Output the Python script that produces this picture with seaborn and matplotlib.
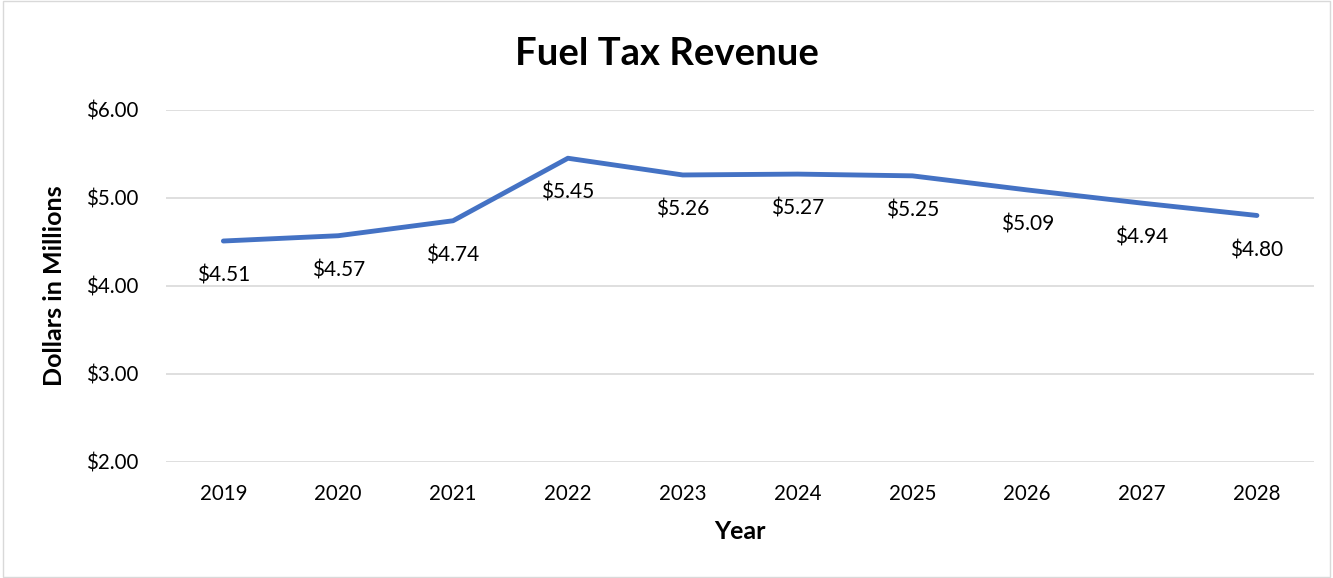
import matplotlib
matplotlib.use("Agg")
import matplotlib.pyplot as plt
import seaborn as sns
import pandas as pd

years = ["2019", "2020", "2021", "2022", "2023", "2024", "2025", "2026", "2027", "2028"]
revenue = [4.51, 4.57, 4.74, 5.45, 5.26, 5.27, 5.25, 5.09, 4.94, 4.80]
y_ticks = [2.0, 3.0, 4.0, 5.0, 6.0]

df = pd.DataFrame({"Year": years, "Revenue": revenue})

sns.set_style("white")
plt.rcParams['font.family'] = ['Lato', 'DejaVu Sans']
plt.rcParams['text.color'] = 'black'
plt.rcParams['axes.labelcolor'] = 'black'
plt.rcParams['xtick.color'] = 'black'
plt.rcParams['ytick.color'] = 'black'

fig = plt.figure(figsize=(13.33, 5.78), dpi=100)
ax = fig.add_axes([0.1245, 0.2007, 0.8615, 0.6093])

sns.lineplot(data=df, x="Year", y="Revenue", ax=ax, color="#4472C4",
             linewidth=3.5, sort=False)

# data labels under each point
for i, v in enumerate(revenue):
    ax.annotate(f"${v:.2f}", (i, v), xytext=(0, -25), textcoords="offset points",
                ha="center", va="center", fontsize=15, color="black")

ax.set_xlim(-0.5, len(years) - 0.5)
ax.set_ylim(2.0, 6.0)
ax.set_yticks(y_ticks)
ax.set_yticklabels([f"${t:.2f}" for t in y_ticks], fontsize=14.8)
ax.tick_params(axis="x", labelsize=14.8, length=0, pad=16)
ax.tick_params(axis="y", length=0, pad=20)
ax.grid(axis="y", color="#D9D9D9", linewidth=1.2)
ax.set_axisbelow(True)
for s in ax.spines.values():
    s.set_visible(False)

ax.set_xlabel("Year", fontsize=18, fontweight="bold", va="center")
ax.xaxis.set_label_coords(0.5, -0.196)
ax.set_ylabel("Dollars in Millions", fontsize=18, fontweight="bold", va="center")
ax.yaxis.set_label_coords(-0.097, 0.5)
fig.suptitle("Fuel Tax Revenue", fontsize=27.5, fontweight="bold", y=0.907, va="center")

fig.patches.append(plt.Rectangle((0.002, 0.002), 0.996, 0.996, transform=fig.transFigure,
                                 fill=False, edgecolor="#D9D9D9", linewidth=1))

fig.savefig("out.png", dpi=100)
